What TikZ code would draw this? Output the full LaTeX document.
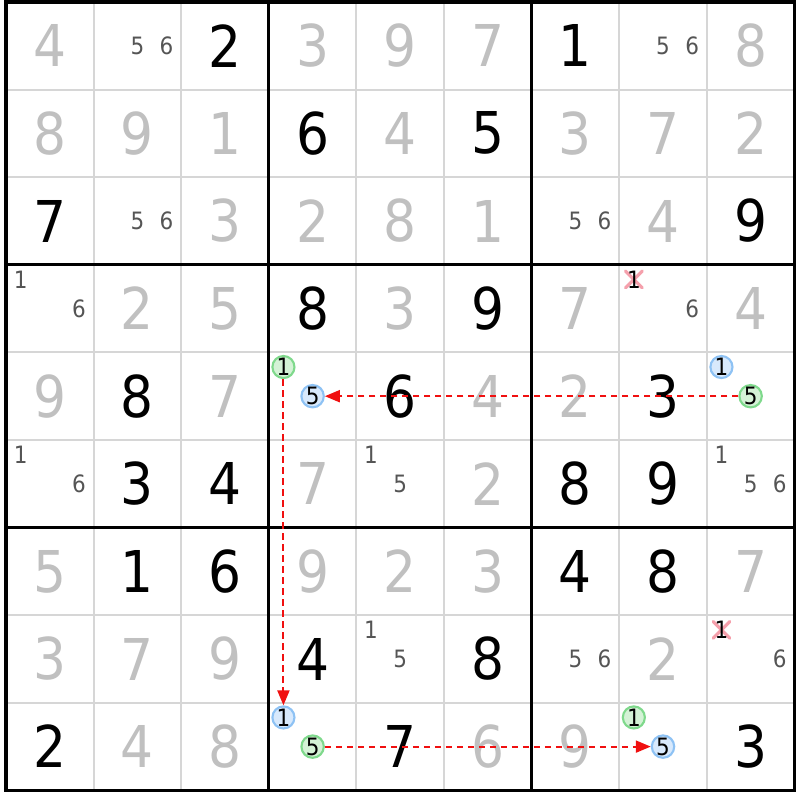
\documentclass[tikz,border=0pt]{standalone}
\usepackage{fontspec}
\setmainfont[FakeStretch=0.9]{DejaVu Sans}
\usetikzlibrary{arrows.meta}

\definecolor{Given}{HTML}{000000}
\definecolor{Solved}{HTML}{C0C0C0}
\definecolor{Cand}{HTML}{555555}
\definecolor{ThinLine}{HTML}{D6D6D6}
\definecolor{OnFill}{HTML}{D4F2D6}
\definecolor{OnLine}{HTML}{7FD98C}
\definecolor{OffFill}{HTML}{D8E9FC}
\definecolor{OffLine}{HTML}{8EC2F4}
\definecolor{Elim}{HTML}{F5A0AC}
\definecolor{Link}{HTML}{F01010}

\begin{document}
\begin{tikzpicture}[x=0.876cm, y=-0.876cm,
  giv/.style={inner sep=0pt, text=Given, font=\fontsize{16.4}{18}\selectfont},
  sol/.style={inner sep=0pt, text=Solved, font=\fontsize{16.4}{18}\selectfont},
  cand/.style={inner sep=0pt, text=Cand, font=\fontsize{6.8}{8}\selectfont},
  elim/.style={inner sep=0pt, text=black, font=\fontsize{6.8}{8}\selectfont},
  ondot/.style={circle, inner sep=0pt, minimum size=0.22cm, line width=0.6pt, draw=OnLine, fill=OnFill, font=\fontsize{6.8}{8}\selectfont},
  offdot/.style={circle, inner sep=0pt, minimum size=0.22cm, line width=0.6pt, draw=OffLine, fill=OffFill, font=\fontsize{6.8}{8}\selectfont},
  xmark/.style={line width=0.9pt, color=Elim, line cap=round},
  link/.style={line width=0.6pt, color=Link, dash pattern=on 0.065cm off 0.045cm, -{Triangle[length=0.15cm, width=0.12cm]}}]

 \useasboundingbox (-0.0685,-0.0228) rectangle (9.0639,9.1096) ;
 \fill [white] (-0.0685,-0.0228) rectangle (9.0639,9.1096) ;

 %%%%%%%%%% Grid %%%%%%%%%%
 \foreach \i in {1,2,4,5,7,8} {
   \draw [line width=0.55pt, color=ThinLine] (\i,0) -- (\i,9) ;
   \draw [line width=0.55pt, color=ThinLine] (0,\i) -- (9,\i) ;
 }
 \foreach \i in {0,3,6,9} {
   \draw [line width=0.9pt, line cap=rect] (\i,0) -- (\i,9) ;
   \draw [line width=0.9pt, line cap=rect] (0,\i) -- (9,\i) ;
 }

 %%%%%%%%%% Row 0 %%%%%%%%%%
 \node [sol] (d00) at (0.5,0.5) {4};
 \node [cand] (d01n5) at (1.5,0.5) {5};
 \node [cand] (d01n6) at (1.833,0.5) {6};
 \node [giv] (d02) at (2.5,0.5) {2};
 \node [sol] (d03) at (3.5,0.5) {3};
 \node [sol] (d04) at (4.5,0.5) {9};
 \node [sol] (d05) at (5.5,0.5) {7};
 \node [giv] (d06) at (6.5,0.5) {1};
 \node [cand] (d07n5) at (7.5,0.5) {5};
 \node [cand] (d07n6) at (7.833,0.5) {6};
 \node [sol] (d08) at (8.5,0.5) {8};

 %%%%%%%%%% Row 1 %%%%%%%%%%
 \node [sol] (d10) at (0.5,1.5) {8};
 \node [sol] (d11) at (1.5,1.5) {9};
 \node [sol] (d12) at (2.5,1.5) {1};
 \node [giv] (d13) at (3.5,1.5) {6};
 \node [sol] (d14) at (4.5,1.5) {4};
 \node [giv] (d15) at (5.5,1.5) {5};
 \node [sol] (d16) at (6.5,1.5) {3};
 \node [sol] (d17) at (7.5,1.5) {7};
 \node [sol] (d18) at (8.5,1.5) {2};

 %%%%%%%%%% Row 2 %%%%%%%%%%
 \node [giv] (d20) at (0.5,2.5) {7};
 \node [cand] (d21n5) at (1.5,2.5) {5};
 \node [cand] (d21n6) at (1.833,2.5) {6};
 \node [sol] (d22) at (2.5,2.5) {3};
 \node [sol] (d23) at (3.5,2.5) {2};
 \node [sol] (d24) at (4.5,2.5) {8};
 \node [sol] (d25) at (5.5,2.5) {1};
 \node [cand] (d26n5) at (6.5,2.5) {5};
 \node [cand] (d26n6) at (6.833,2.5) {6};
 \node [sol] (d27) at (7.5,2.5) {4};
 \node [giv] (d28) at (8.5,2.5) {9};

 %%%%%%%%%% Row 3 %%%%%%%%%%
 \node [cand] (d30n1) at (0.167,3.167) {1};
 \node [cand] (d30n6) at (0.833,3.5) {6};
 \node [sol] (d31) at (1.5,3.5) {2};
 \node [sol] (d32) at (2.5,3.5) {5};
 \node [giv] (d33) at (3.5,3.5) {8};
 \node [sol] (d34) at (4.5,3.5) {3};
 \node [giv] (d35) at (5.5,3.5) {9};
 \node [sol] (d36) at (6.5,3.5) {7};
 \coordinate (x37) at (7.167,3.167) ;
 \draw [xmark] (x37) +(-0.095,-0.095) -- +(0.095,0.095) (x37) +(-0.095,0.095) -- +(0.095,-0.095) ;
 \node [elim] (d37n1) at (x37) {1};
 \node [cand] (d37n6) at (7.833,3.5) {6};
 \node [sol] (d38) at (8.5,3.5) {4};

 %%%%%%%%%% Row 4 %%%%%%%%%%
 \node [sol] (d40) at (0.5,4.5) {9};
 \node [giv] (d41) at (1.5,4.5) {8};
 \node [sol] (d42) at (2.5,4.5) {7};
 \node [ondot] (d43n1) at (3.167,4.167) {1};
 \node [offdot] (d43n5) at (3.5,4.5) {5};
 \node [giv] (d44) at (4.5,4.5) {6};
 \node [sol] (d45) at (5.5,4.5) {4};
 \node [sol] (d46) at (6.5,4.5) {2};
 \node [giv] (d47) at (7.5,4.5) {3};
 \node [offdot] (d48n1) at (8.167,4.167) {1};
 \node [ondot] (d48n5) at (8.5,4.5) {5};

 %%%%%%%%%% Row 5 %%%%%%%%%%
 \node [cand] (d50n1) at (0.167,5.167) {1};
 \node [cand] (d50n6) at (0.833,5.5) {6};
 \node [giv] (d51) at (1.5,5.5) {3};
 \node [giv] (d52) at (2.5,5.5) {4};
 \node [sol] (d53) at (3.5,5.5) {7};
 \node [cand] (d54n1) at (4.167,5.167) {1};
 \node [cand] (d54n5) at (4.5,5.5) {5};
 \node [sol] (d55) at (5.5,5.5) {2};
 \node [giv] (d56) at (6.5,5.5) {8};
 \node [giv] (d57) at (7.5,5.5) {9};
 \node [cand] (d58n1) at (8.167,5.167) {1};
 \node [cand] (d58n5) at (8.5,5.5) {5};
 \node [cand] (d58n6) at (8.833,5.5) {6};

 %%%%%%%%%% Row 6 %%%%%%%%%%
 \node [sol] (d60) at (0.5,6.5) {5};
 \node [giv] (d61) at (1.5,6.5) {1};
 \node [giv] (d62) at (2.5,6.5) {6};
 \node [sol] (d63) at (3.5,6.5) {9};
 \node [sol] (d64) at (4.5,6.5) {2};
 \node [sol] (d65) at (5.5,6.5) {3};
 \node [giv] (d66) at (6.5,6.5) {4};
 \node [giv] (d67) at (7.5,6.5) {8};
 \node [sol] (d68) at (8.5,6.5) {7};

 %%%%%%%%%% Row 7 %%%%%%%%%%
 \node [sol] (d70) at (0.5,7.5) {3};
 \node [sol] (d71) at (1.5,7.5) {7};
 \node [sol] (d72) at (2.5,7.5) {9};
 \node [giv] (d73) at (3.5,7.5) {4};
 \node [cand] (d74n1) at (4.167,7.167) {1};
 \node [cand] (d74n5) at (4.5,7.5) {5};
 \node [giv] (d75) at (5.5,7.5) {8};
 \node [cand] (d76n5) at (6.5,7.5) {5};
 \node [cand] (d76n6) at (6.833,7.5) {6};
 \node [sol] (d77) at (7.5,7.5) {2};
 \coordinate (x78) at (8.167,7.167) ;
 \draw [xmark] (x78) +(-0.095,-0.095) -- +(0.095,0.095) (x78) +(-0.095,0.095) -- +(0.095,-0.095) ;
 \node [elim] (d78n1) at (x78) {1};
 \node [cand] (d78n6) at (8.833,7.5) {6};

 %%%%%%%%%% Row 8 %%%%%%%%%%
 \node [giv] (d80) at (0.5,8.5) {2};
 \node [sol] (d81) at (1.5,8.5) {4};
 \node [sol] (d82) at (2.5,8.5) {8};
 \node [offdot] (d83n1) at (3.167,8.167) {1};
 \node [ondot] (d83n5) at (3.5,8.5) {5};
 \node [giv] (d84) at (4.5,8.5) {7};
 \node [sol] (d85) at (5.5,8.5) {6};
 \node [sol] (d86) at (6.5,8.5) {9};
 \node [ondot] (d87n1) at (7.167,8.167) {1};
 \node [offdot] (d87n5) at (7.5,8.5) {5};
 \node [giv] (d88) at (8.5,8.5) {3};

 %%%%%%%%%% Links %%%%%%%%%%
 \draw [link] (d48n5) -- (d43n5) ;
 \draw [link] (d43n1) -- (d83n1) ;
 \draw [link] (d83n5) -- (d87n5) ;

\end{tikzpicture}
\end{document}
